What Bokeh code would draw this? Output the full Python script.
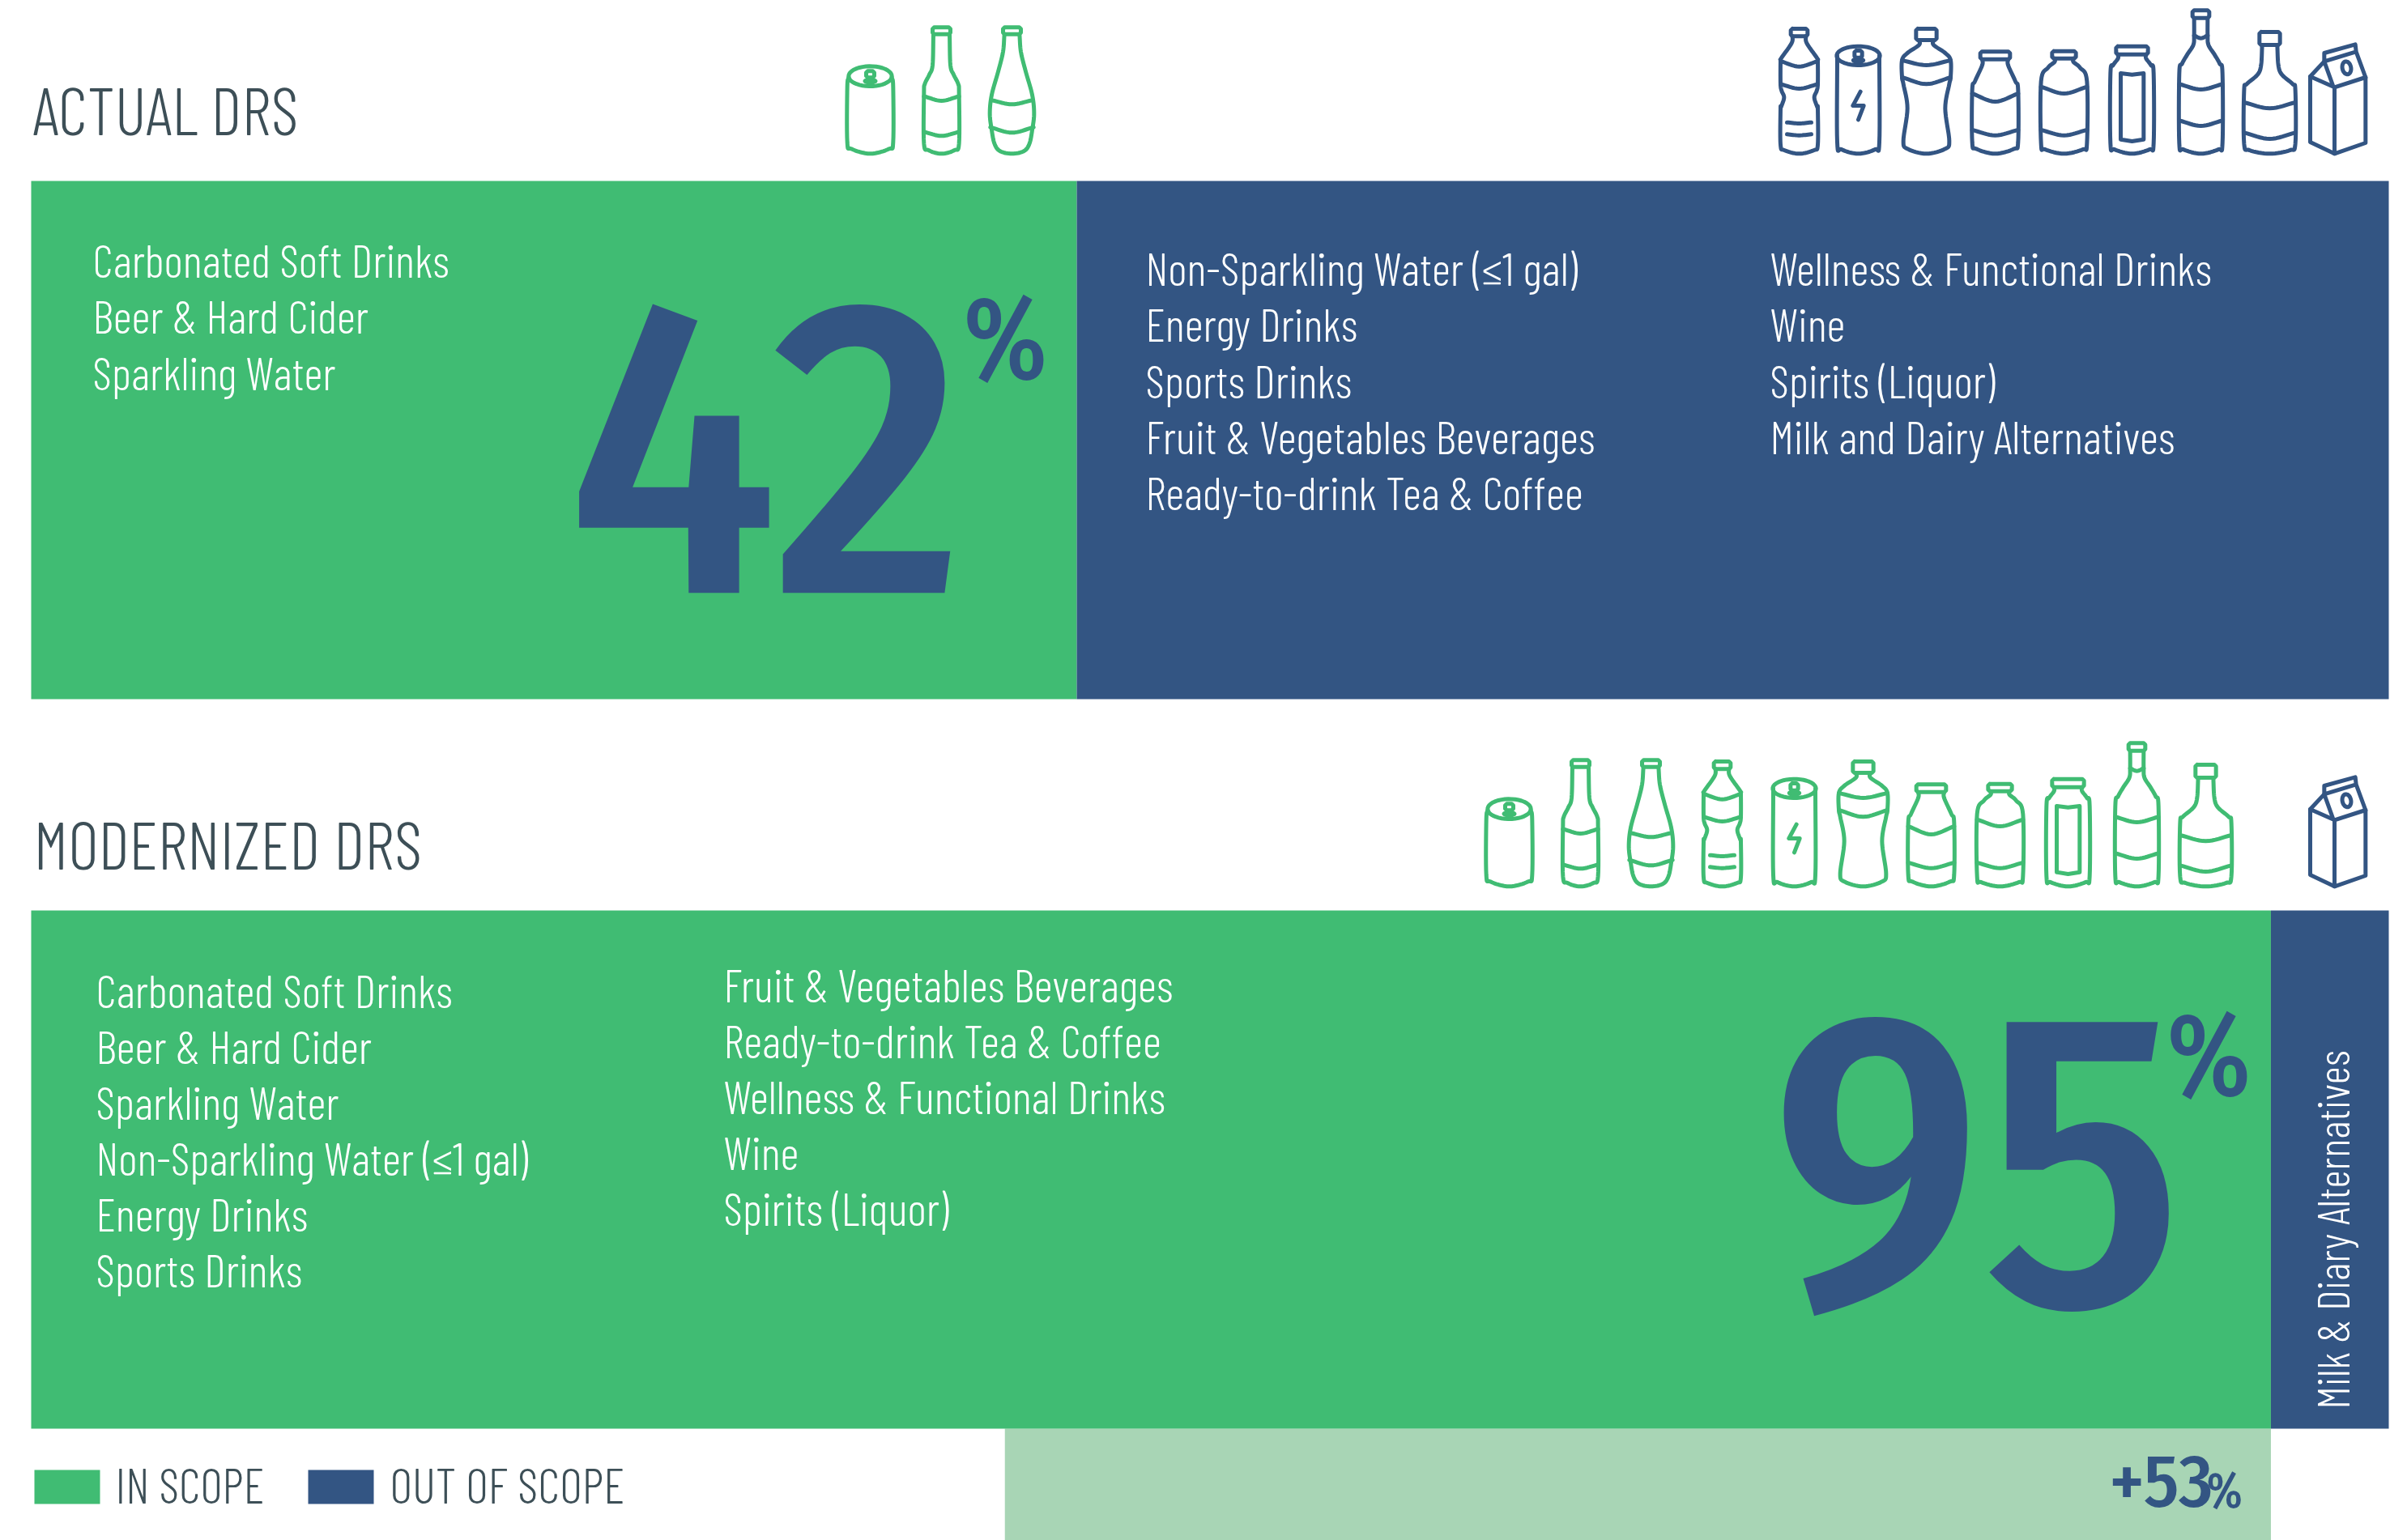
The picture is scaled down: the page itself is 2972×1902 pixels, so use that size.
import numpy as np
from bokeh.plotting import figure
from bokeh.models import Range1d
from bokeh.core.properties import value
from bokeh.embed import file_html
from bokeh.resources import INLINE

# ---------- data ----------
actual_in_scope_label = "42"
modern_in_scope_label = "95"
gain_label = "+53"
pct_sign = "%"
actual_bar_in_scope = 44.35      # drawn length, share of the full bar
modern_bar_in_scope = 95.0
gain_band_start = 41.3
bar_total = 100.0

title_actual = "ACTUAL DRS"
title_modern = "MODERNIZED DRS"
actual_green = ["Carbonated Soft Drinks", "Beer & Hard Cider", "Sparkling Water"]
actual_blue_1 = ["Non-Sparkling Water (≤1 gal)", "Energy Drinks", "Sports Drinks",
                 "Fruit & Vegetables Beverages", "Ready-to-drink Tea & Coffee"]
actual_blue_2 = ["Wellness & Functional Drinks", "Wine", "Spirits (Liquor)",
                 "Milk and Dairy Alternatives"]
modern_green_1 = ["Carbonated Soft Drinks", "Beer & Hard Cider", "Sparkling Water",
                  "Non-Sparkling Water (≤1 gal)", "Energy Drinks", "Sports Drinks"]
modern_green_2 = ["Fruit & Vegetables Beverages", "Ready-to-drink Tea & Coffee",
                  "Wellness & Functional Drinks", "Wine", "Spirits (Liquor)"]
modern_blue = "Milk & Diary Alternatives"
legend_labels = ["IN SCOPE", "OUT OF SCOPE"]

GREEN = "#40BC73"
BLUE = "#335583"
PALE = "#A8D5B5"
GREY = "#3D4F57"
FONT = "Barlow Condensed Light, Barlow Condensed, Liberation Sans"
BIG = "Fira Sans Condensed Medium, Fira Sans Condensed, Liberation Sans"
PCT = "Fira Sans Extra Condensed Medium, Fira Sans Condensed, Liberation Sans"
LIFT = 0.41   # this text setup sits below its nominal baseline by this share of its size

# ---------- canvas: the default range is the page's pixel grid ----------
W, H = 2972, 1902
BAR_L, BAR_R = 38.0, 2949.0
per = (BAR_R - BAR_L) / bar_total
p = figure(width=W, height=H, x_range=Range1d(0, W), y_range=Range1d(H, 0),
           output_backend="svg", toolbar_location=None, x_axis_location=None,
           y_axis_location=None, min_border=0, outline_line_color=None,
           background_fill_color="white")
p.grid.visible = False
p.extra_x_ranges = {"share": Range1d((0 - BAR_L) / per, (W - BAR_L) / per)}


def bar(left, right, top, bottom, color):
    p.hbar(y=[(top + bottom) / 2], height=[bottom - top], left=[left], right=[right],
           color=color, line_color=None, x_range_name="share")


bar(0, actual_bar_in_scope, 223, 863, GREEN)
bar(actual_bar_in_scope, bar_total, 223, 863, BLUE)
bar(gain_band_start, modern_bar_in_scope, 1764, 1902, PALE)
bar(0, modern_bar_in_scope, 1124, 1764, GREEN)
bar(modern_bar_in_scope, bar_total, 1124, 1764, BLUE)


def txt(x, y, s, size, color, font=FONT, lift=LIFT):
    p.text(x=[x], y=[y - lift * size], text=[s], text_font=value(font), text_font_size=f"{size}px",
           text_color=color, text_align="left", text_baseline="alphabetic")


def column(x, y0, lines, size=57, step=69.2):
    for i, s in enumerate(lines):
        txt(x, y0 + i * step, s, size, "white")


txt(40, 167, title_actual, 82, GREY)
txt(41, 1075, title_modern, 83, GREY)
column(114, 343, actual_green)
column(1414, 353, actual_blue_1)
column(2185, 353, actual_blue_2)
column(118, 1245, modern_green_1, step=68.9)
column(893, 1238, modern_green_2, step=68.9)
p.text(x=[2901 - LIFT * 55], y=[1740], text=[modern_blue], text_font=value(FONT),
       text_font_size="55px", text_color="white", text_align="left",
       text_baseline="alphabetic", angle=[np.pi / 2])

txt(700, 731, actual_in_scope_label, 520, BLUE, BIG, 0.35)
txt(1189, 478, pct_sign, 145, BLUE, PCT)
txt(2187, 1611, modern_in_scope_label, 520, BLUE, BIG, 0.35)
txt(2675, 1363, pct_sign, 145, BLUE, PCT)
txt(2604, 1866, gain_label, 92, BLUE, BIG)
txt(2724, 1866, pct_sign, 62, BLUE, PCT)

p.quad(left=[42], right=[123], top=[1815], bottom=[1857], color=GREEN, line_color=None)
p.quad(left=[380], right=[461], top=[1815], bottom=[1857], color=BLUE, line_color=None)
txt(142, 1857, legend_labels[0], 60, GREY)
txt(481, 1857, legend_labels[1], 61, GREY)


# ---------- icons: outlines in 3x-crop units around each icon's centre ----------
def smooth(pts, closed=False, n=8):
    P = np.array(pts, float)
    if closed:
        P = np.vstack([P[-1], P, P[0], P[1]])
    else:
        P = np.vstack([2 * P[0] - P[1], P, 2 * P[-1] - P[-2]])
    out = []
    for i in range(1, len(P) - 2):
        for t in np.linspace(0, 1, n, endpoint=False):
            a, b, c, d = P[i - 1], P[i], P[i + 1], P[i + 2]
            out.append(0.5 * (2 * b + (c - a) * t + (2 * a - 5 * b + 4 * c - d) * t ** 2
                              + (3 * b - a - 3 * c + d) * t ** 3))
    out.append(P[-2])
    return np.array(out)


def body(half):
    left = [(-x, y) for x, y in half[:-1]]
    right = list(reversed(half[:-1]))
    return smooth(left + [half[-1]] + right)


def band(dx, yend, ymid):
    return smooth([(-dx, yend), (0, ymid), (dx, yend)])


def ell(cx, cy, rx, ry, tilt=0.0):
    t = np.linspace(0, 2 * np.pi, 40)
    x, y = rx * np.cos(t), ry * np.sin(t)
    return np.c_[cx + x * np.cos(tilt) - y * np.sin(tilt), cy + x * np.sin(tilt) + y * np.cos(tilt)]


def cap(dx, y0, y1, c=6):
    return np.array([(-dx + c, y0), (dx - c, y0), (dx, y0 + c), (dx, y1 - c), (dx - c, y1),
                     (-dx + c, y1), (-dx, y1 - c), (-dx, y0 + c), (-dx + c, y0)], float)


def poly(*pts):
    return np.array(pts, float)


ICONS = {
    "can": ([ell(0, 281, 80, 37), body([(80, 285), (85, 322), (85, 525), (70, 550), (0, 568)]),
             cap(15, 262, 286)], [ell(0, 299, 24, 10)]),
    "beer": ([cap(33, 100, 125), body([(30, 125), (33, 240), (45, 275), (62, 310), (65, 345), (65, 530), (48, 555), (0, 568)]),
              band(65, 355, 372), band(65, 487, 502)], []),
    "flute": ([cap(33, 100, 125), body([(28, 125), (33, 190), (50, 260), (75, 350), (82, 420), (75, 480), (65, 530), (45, 558), (0, 568)]),
               band(74, 370, 385), band(80, 470, 490)], []),
    "pet": ([cap(31, 105, 133), body([(25, 133), (25, 150), (35, 170), (67, 215), (69, 228), (69, 310), (65, 335), (56, 360), (67, 395), (69, 402), (69, 535), (55, 555), (0, 568)]),
             band(69, 225, 245), band(69, 310, 327), band(45, 452, 456), band(45, 496, 500)], []),
    "energy": ([ell(0, 205, 80, 35), body([(78, 205), (78, 525), (62, 552), (0, 568)]),
                cap(14, 186, 212), poly((8, 338), (-20, 390), (20, 390), (0, 442))], [ell(0, 222, 23, 10)]),
    "pet2": ([cap(38, 105, 147), body([(27, 147), (27, 165), (70, 195), (90, 222), (90, 285), (85, 310), (70, 400), (85, 520), (70, 550), (0, 568)]),
              band(90, 222, 240), band(90, 285, 310)], []),
    "milk": ([cap(55, 190, 218), body([(48, 218), (48, 240), (75, 300), (85, 332), (85, 525), (70, 550), (0, 568)]),
              band(85, 345, 375), band(85, 480, 500)], []),
    "round": ([cap(44, 188, 215), body([(35, 215), (35, 228), (60, 250), (85, 300), (85, 530), (70, 552), (0, 568)]),
               band(85, 320, 345), band(85, 480, 500)], []),
    "jar": ([cap(59, 170, 200), body([(52, 200), (52, 215), (70, 240), (80, 270), (80, 530), (65, 552), (0, 568)]),
             poly((-42, 270), (0, 275), (43, 270), (43, 515), (0, 522), (-42, 515), (-42, 270))], []),
    "wine": ([cap(31, 37, 65), body([(25, 65), (25, 130), (28, 165), (50, 200), (70, 235), (80, 270), (80, 530), (65, 552), (0, 568)]),
              band(25, 130, 140), band(80, 310, 330), band(80, 445, 465)], []),
    "liquor": ([cap(38, 117, 165), body([(28, 165), (32, 240), (45, 275), (85, 310), (95, 335), (95, 530), (75, 555), (0, 568)]),
                band(95, 378, 400), band(95, 490, 513)], []),
    "carton": ([poly((-90, 282), (-90, 525), (0, 568), (115, 528), (115, 285), (0, 322), (-90, 282)),
                poly((0, 322), (0, 568)),
                poly((-90, 282), (-38, 226), (-5, 318)),
                poly((115, 285), (80, 190), (-38, 226), (-38, 195), (77, 163), (80, 190)),
                ell(45, 250, 16, 24, -0.2)], []),
}

ICON_ROWS = [
    (0, GREEN, [("can", 1074), ("beer", 1162), ("flute", 1249)]),
    (0, BLUE, [("pet", 2221), ("energy", 2294), ("pet2", 2378), ("milk", 2463), ("round", 2548),
               ("jar", 2632), ("wine", 2717), ("liquor", 2802), ("carton", 2882)]),
    (905, GREEN, [("can", 1863), ("beer", 1951), ("flute", 2038), ("pet", 2126), ("energy", 2215),
                  ("pet2", 2300), ("milk", 2384), ("round", 2469), ("jar", 2553), ("wine", 2638),
                  ("liquor", 2723)]),
    (905, BLUE, [("carton", 2882)]),
]

for dy, color, items in ICON_ROWS:
    xs, ys, fx, fy = [], [], [], []
    for name, cx in items:
        strokes, blobs = ICONS[name]
        for s in strokes:
            xs.append(cx + s[:, 0] / 3)
            ys.append(dy + s[:, 1] / 3)
        for b in blobs:
            fx.append(cx + b[:, 0] / 3)
            fy.append(dy + b[:, 1] / 3)
    p.multi_line(xs, ys, line_color=color, line_width=5, line_join="round", line_cap="round")
    if fx:
        p.patches(fx, fy, fill_color=color, line_color=color, line_width=2)

open("out.html", "w").write(file_html(p, INLINE))
